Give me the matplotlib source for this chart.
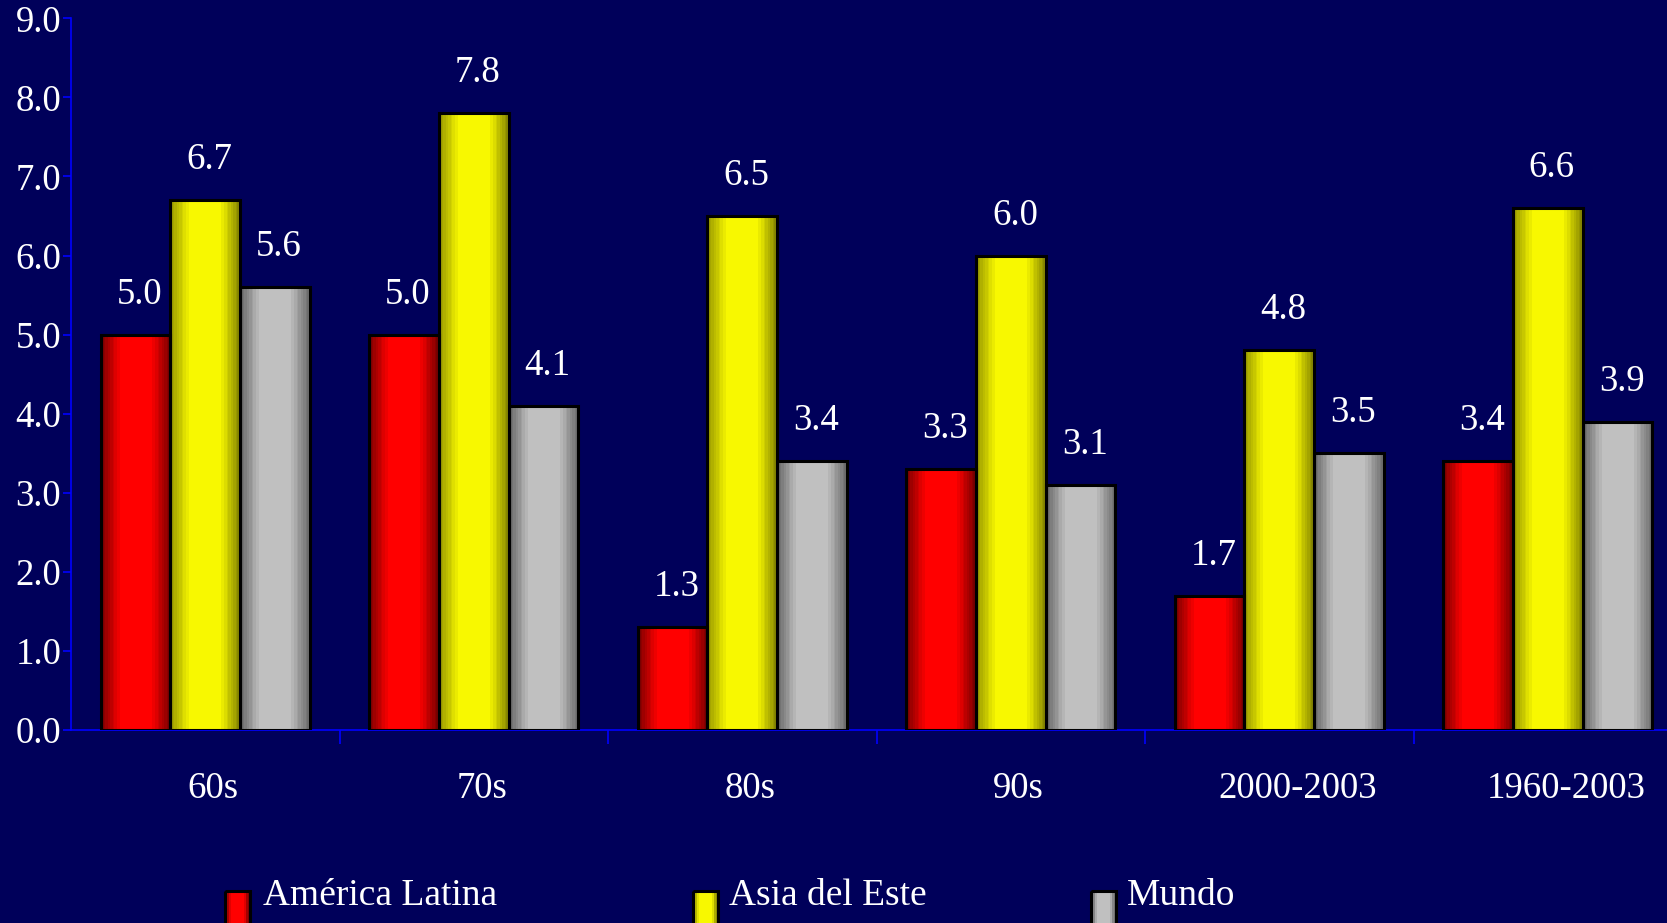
import matplotlib
matplotlib.use("Agg")
import matplotlib.pyplot as plt
import matplotlib.transforms as mtransforms
import numpy as np
from matplotlib.colors import to_rgb

# growth rates by period
periods = ["60s", "70s", "80s", "90s", "2000-2003", "1960-2003"]
series_names = ["América Latina", "Asia del Este", "Mundo"]
america_latina = [5.0, 5.0, 1.3, 3.3, 1.7, 3.4]
asia_del_este = [6.7, 7.8, 6.5, 6.0, 4.8, 6.6]
mundo = [5.6, 4.1, 3.4, 3.1, 3.5, 3.9]

# (left dark, bright centre, right dark) for the cylinder shading
shades = [
    ("#6e0000", "#ff0000", "#680000"),
    ("#8f8f00", "#f8f800", "#787800"),
    ("#5e5e5e", "#c0c0c0", "#626262"),
]

BG = "#00005a"
AXIS = "#0000ff"

plt.rcParams["font.family"] = ["Liberation Serif", "DejaVu Serif"]


def shade_strip(colors, n=48, bands=10):
    left, mid, right = (np.array(to_rgb(c)) for c in colors)
    t = (np.arange(n) + 0.5) / n
    s = np.clip(np.sin(np.pi * t) * 1.25, 0, 1)
    s = np.round(s * (bands - 1)) / (bands - 1)
    dark = left[None, :] * (1 - t[:, None]) + right[None, :] * t[:, None]
    rgb = dark + (mid[None, :] - dark) * s[:, None]
    return rgb[None, :, :]


W, H = 1667, 923
fig = plt.figure(figsize=(W / 100, H / 100), dpi=100, facecolor=BG)
ax = fig.add_axes([71 / W, 193 / H, 1611 / W, 711.7 / H])
ax.set_facecolor(BG)

x = np.arange(len(periods))
width = 0.26
data = [america_latina, asia_del_este, mundo]

for i, (vals, cols) in enumerate(zip(data, shades)):
    offs = (i - 1) * width
    bars = ax.bar(x + offs, vals, width, facecolor="none", edgecolor="black",
                  linewidth=2.2, zorder=3)
    strip = shade_strip(cols)
    for b, v in zip(bars, vals):
        x0 = b.get_x()
        ax.imshow(strip, extent=(x0, x0 + b.get_width(), 0, b.get_height()),
                  aspect="auto", interpolation="nearest", zorder=2)
        ax.annotate(f"{v:.1f}", (x0 + b.get_width() / 2, b.get_height()),
                    xytext=(3, 29), textcoords="offset points",
                    ha="center", va="center", color="white", fontsize=26.5)

ax.set_xlim(-0.5, len(periods) - 0.5)
ax.set_ylim(0, 9)

# axis styling
for side in ["top", "right"]:
    ax.spines[side].set_visible(False)
for side in ["left", "bottom"]:
    ax.spines[side].set_color(AXIS)
    ax.spines[side].set_linewidth(1.2)

ax.set_yticks(np.arange(0, 10, 1))
ax.set_yticklabels([f"{v:.1f}" for v in range(10)])
ax.tick_params(axis="y", colors=AXIS, labelcolor="white", labelsize=26.5,
               length=6, width=1.2, pad=1)

ax.set_xticks(x[:-1] + 0.5)
ax.set_xticklabels([])
ax.tick_params(axis="x", which="major", colors=AXIS, length=10, width=1.2)
ax.set_xticks(x, minor=True)
ax.set_xticklabels(periods, minor=True)
ax.tick_params(axis="x", which="minor", length=0, labelcolor="white",
               labelsize=26.5, pad=30)
# category labels sit a little right of the group centre
shift = mtransforms.ScaledTranslation(8 / 100, 0, fig.dpi_scale_trans)
for lbl, name in zip(ax.get_xticklabels(minor=True), periods):
    extra = 10 / 100 if len(name) > 4 else 0
    lbl.set_transform(lbl.get_transform() + shift
                      + mtransforms.ScaledTranslation(extra, 0, fig.dpi_scale_trans))

# legend along the bottom
lax = fig.add_axes([0, 0, 1, 1])
lax.set_xlim(0, W)
lax.set_ylim(H, 0)
lax.axis("off")
legend_x = [(225, 263), (693, 729), (1091, 1127)]
for name, cols, (mx, tx) in zip(series_names, shades, legend_x):
    lax.imshow(shade_strip(cols, n=12, bands=6), extent=(mx, mx + 25, 926, 891),
               aspect="auto", interpolation="nearest", zorder=2)
    lax.add_patch(plt.Rectangle((mx, 891), 25, 35, facecolor="none",
                                edgecolor="black", linewidth=2.2, zorder=3))
    lax.text(tx, 896, name, color="white", fontsize=27, va="center", ha="left")
lax.set_xlim(0, W)
lax.set_ylim(H, 0)

fig.savefig("out.png", dpi=100, facecolor=BG)
